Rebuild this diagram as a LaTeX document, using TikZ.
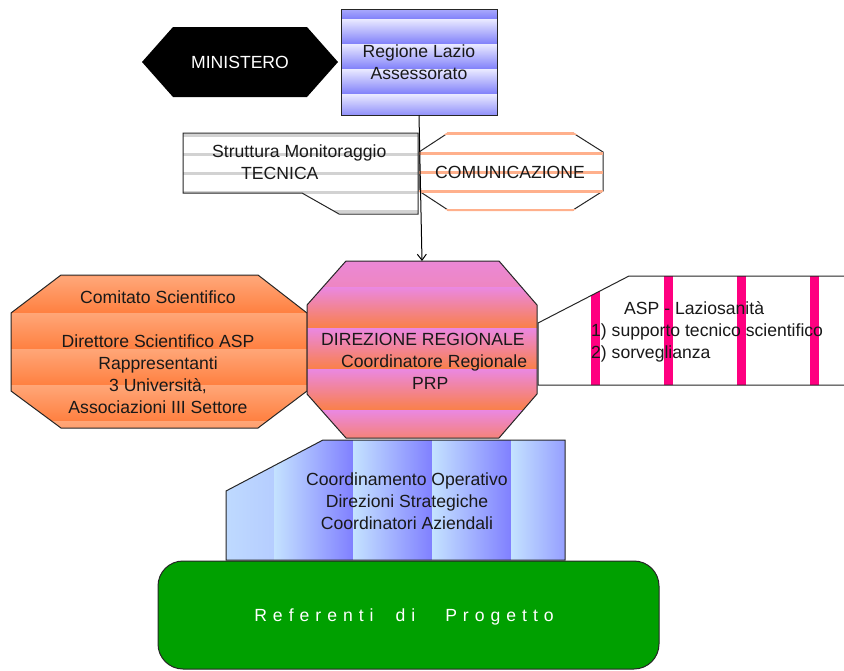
\documentclass[tikz,border=0pt]{standalone}
\usepackage{fontspec}
\setmainfont{Liberation Sans}
\newfontfamily\spacedfont[LetterSpace=34]{Liberation Sans}
\usetikzlibrary{arrows.meta}
\definecolor{regLight}{RGB}{234,234,255}
\definecolor{regDark}{RGB}{128,128,250}
\definecolor{dirOrchid}{RGB}{234,136,226}
\definecolor{dirOrange}{RGB}{250,128,72}
\definecolor{comLight}{RGB}{255,166,120}
\definecolor{comDark}{RGB}{255,128,64}
\definecolor{coordLight}{RGB}{196,226,255}
\definecolor{coordDark}{RGB}{128,128,255}
\definecolor{comuLine}{RGB}{255,176,140}
\definecolor{strLine}{RGB}{210,210,210}
\definecolor{aspBar}{RGB}{255,0,128}
\definecolor{refGreen}{RGB}{0,160,0}
\begin{document}
\begin{tikzpicture}[x=1pt,y=-1pt,
  outline/.style={draw=black!85, line width=1pt},
  txt/.style={font=\fontsize{17.6}{22}\selectfont, inner sep=0pt, text=black!90}]
\useasboundingbox (0,0) rectangle (844,670);

% MINISTERO
\fill[black] (142,62) -- (173,27) -- (307,27) -- (338,62) -- (307,97) -- (173,97) -- cycle;
\node[txt, text=white] (ministero) at (240,62) {MINISTERO};

% Regione Lazio
\begin{scope}
\clip (341,9) rectangle (497,115);
\foreach \y in {-6,19,44,69,94}
  \shade[top color=regLight, bottom color=regDark] (341,\y) rectangle (497,\y+25);
\end{scope}
\node[outline, txt, minimum width=156pt, minimum height=106pt, align=center] (regione) at (419,62) {Regione Lazio\\Assessorato};

% Struttura Monitoraggio
\draw[outline, fill=white, path picture={
  \foreach \y in {135,154,173,192,211}
    \draw[strLine, line width=3pt] (183,\y) -- (418,\y);}]
  (183,133) -- (418,133) -- (418,214) -- (339,214) -- (302,193) -- (183,193) -- cycle;
\node[txt, align=left, anchor=west] (struttura) at (212,162) {Struttura Monitoraggio\\\hspace*{29pt}TECNICA};

% COMUNICAZIONE
\draw[outline, fill=white] (448,133) -- (573,133) -- (603,152) -- (603,191) -- (573,210) -- (448,210) -- (419,191) -- (419,152) -- cycle;
\begin{scope}
\clip (448,132) -- (573,132) -- (604,152) -- (604,191) -- (573,211) -- (448,211) -- (418,191) -- (418,152) -- cycle;
\foreach \y in {133,153,172,191,210}
  \draw[comuLine, line width=3pt] (419,\y) -- (603,\y);
\end{scope}
\node[txt] (comunicazione) at (510,172) {COMUNICAZIONE};

% Comitato Scientifico
\draw[outline, path picture={
  \foreach \y in {241,277,313,349,385,421}
    \shade[top color=comLight, bottom color=comDark] (11,\y) rectangle (307,\y+36);}]
  (61,275) -- (258,275) -- (307,313) -- (307,391) -- (258,428) -- (61,428) -- (11,391) -- (11,313) -- cycle;
\node[txt, align=center] (comitato) at (158,352) {Comitato Scientifico\\[22pt]Direttore Scientifico ASP\\Rappresentanti\\3 Università,\\Associazioni III Settore};

% ASP - Laziosanita
\fill[white] (538,323) -- (629,276) -- (844,276) -- (844,385) -- (538,385) -- cycle;
\begin{scope}
\clip (538,323) -- (629,276) -- (850,276) -- (850,385) -- (538,385) -- cycle;
\foreach \x in {591,664,737,810}
  \fill[aspBar] (\x,270) rectangle (\x+9,390);
\end{scope}
\draw[outline] (846,276) -- (629,276) -- (538,323) -- (538,385) -- (846,385);
\node[txt, align=left, anchor=west] (asp) at (591,332) {\hspace*{33pt}ASP - Laziosanità\\1) supporto tecnico scientifico\\2) sorveglianza};

% DIREZIONE REGIONALE
\draw[outline, path picture={
  \foreach \y in {246,287,328,369,410}
    \shade[top color=dirOrchid, bottom color=dirOrange] (307,\y) rectangle (537,\y+41);}]
  (346,261) -- (499,261) -- (537,305) -- (537,394) -- (499,438) -- (346,438) -- (307,394) -- (307,305) -- cycle;
\node[txt, align=left, anchor=west] (direzione) at (321,361) {DIREZIONE REGIONALE\\\hspace*{20pt}Coordinatore Regionale\\\hspace*{91pt}PRP};
\coordinate (dirTop) at (422,261);

% Coordinamento Operativo
\draw[outline, path picture={
  \foreach \x in {195,274,353,432,511}
    \shade[left color=coordLight, right color=coordDark] (\x,440) rectangle (\x+79,560);}]
  (323,440) -- (565,440) -- (565,560) -- (226,560) -- (226,491) -- cycle;
\node[txt, align=center] (coordinamento) at (407,501) {Coordinamento Operativo\\Direzioni Strategiche\\Coordinatori Aziendali};

% Referenti di Progetto
\draw[outline, fill=refGreen, rounded corners=25pt] (158,561) rectangle (659,669);
\node[txt, text=white] (referenti) at (404,617) {\spacedfont Referenti\hspace{22pt}di\hspace{30pt}Progetto};

% connector
\draw[line width=1pt, -{Straight Barb[length=6pt,width=9pt]}] (regione.south) -- (dirTop);
\end{tikzpicture}
\end{document}
